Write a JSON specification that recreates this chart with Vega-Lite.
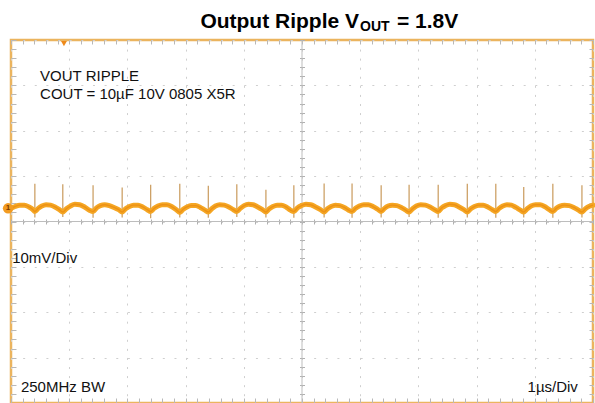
{
  "$schema": "https://vega.github.io/schema/vega-lite/v6.json",
  "width": 582,
  "height": 363,
  "autosize": {"type": "none"},
  "padding": {"left": 11, "top": 40, "right": 2, "bottom": 0},
  "background": "white",
  "config": {
    "view": {"stroke": "#EBB45E", "strokeWidth": 2.5},
    "text": {"font": "Liberation Sans"}
  },
  "datasets": {
    "wave": [
      {"t": 0, "v": 2.9}, {"t": 0.07, "v": 3.3}, {"t": 0.15, "v": 3.6}, {"t": 0.23, "v": 3.6}, {"t": 0.31, "v": 3.2}, {"t": 0.37, "v": 2.7},
      {"t": 0.41, "v": 2.2}, {"t": 0.468, "v": 2.9}, {"t": 0.53, "v": 3.4}, {"t": 0.602, "v": 3.7}, {"t": 0.679, "v": 3.6}, {"t": 0.756, "v": 3.2}, {"t": 0.832, "v": 2.6},
      {"t": 0.89, "v": 2.1}, {"t": 0.952, "v": 2.8}, {"t": 1.02, "v": 3.4}, {"t": 1.098, "v": 3.8}, {"t": 1.181, "v": 3.7}, {"t": 1.264, "v": 3.2}, {"t": 1.348, "v": 2.5},
      {"t": 1.41, "v": 2.2}, {"t": 1.47, "v": 3.0}, {"t": 1.535, "v": 3.5}, {"t": 1.61, "v": 3.7}, {"t": 1.69, "v": 3.5}, {"t": 1.77, "v": 3.1}, {"t": 1.85, "v": 2.6},
      {"t": 1.91, "v": 2.1}, {"t": 1.969, "v": 2.8}, {"t": 2.033, "v": 3.3}, {"t": 2.106, "v": 3.6}, {"t": 2.184, "v": 3.6}, {"t": 2.263, "v": 3.2}, {"t": 2.341, "v": 2.6},
      {"t": 2.4, "v": 2.2}, {"t": 2.46, "v": 2.9}, {"t": 2.525, "v": 3.4}, {"t": 2.6, "v": 3.7}, {"t": 2.68, "v": 3.7}, {"t": 2.76, "v": 3.3}, {"t": 2.84, "v": 2.6},
      {"t": 2.9, "v": 2.0}, {"t": 2.959, "v": 2.7}, {"t": 3.023, "v": 3.2}, {"t": 3.096, "v": 3.5}, {"t": 3.174, "v": 3.5}, {"t": 3.253, "v": 3.1}, {"t": 3.331, "v": 2.5},
      {"t": 3.39, "v": 2.1}, {"t": 3.449, "v": 2.8}, {"t": 3.513, "v": 3.4}, {"t": 3.586, "v": 3.7}, {"t": 3.664, "v": 3.6}, {"t": 3.743, "v": 3.2}, {"t": 3.821, "v": 2.6},
      {"t": 3.88, "v": 2.2}, {"t": 3.94, "v": 2.9}, {"t": 4.005, "v": 3.5}, {"t": 4.08, "v": 3.8}, {"t": 4.16, "v": 3.7}, {"t": 4.24, "v": 3.2}, {"t": 4.32, "v": 2.6},
      {"t": 4.38, "v": 2.1}, {"t": 4.438, "v": 2.8}, {"t": 4.5, "v": 3.3}, {"t": 4.572, "v": 3.6}, {"t": 4.649, "v": 3.6}, {"t": 4.726, "v": 3.2}, {"t": 4.802, "v": 2.5},
      {"t": 4.86, "v": 2.2}, {"t": 4.922, "v": 3.0}, {"t": 4.99, "v": 3.5}, {"t": 5.068, "v": 3.8}, {"t": 5.151, "v": 3.7}, {"t": 5.234, "v": 3.2}, {"t": 5.318, "v": 2.6},
      {"t": 5.38, "v": 2.1}, {"t": 5.438, "v": 2.8}, {"t": 5.5, "v": 3.3}, {"t": 5.572, "v": 3.6}, {"t": 5.649, "v": 3.5}, {"t": 5.726, "v": 3.1}, {"t": 5.802, "v": 2.5},
      {"t": 5.86, "v": 2.2}, {"t": 5.92, "v": 2.9}, {"t": 5.985, "v": 3.4}, {"t": 6.06, "v": 3.7}, {"t": 6.14, "v": 3.7}, {"t": 6.22, "v": 3.3}, {"t": 6.3, "v": 2.7},
      {"t": 6.36, "v": 2.2}, {"t": 6.418, "v": 2.9}, {"t": 6.48, "v": 3.4}, {"t": 6.552, "v": 3.6}, {"t": 6.629, "v": 3.5}, {"t": 6.706, "v": 3.1}, {"t": 6.782, "v": 2.5},
      {"t": 6.84, "v": 2.1}, {"t": 6.9, "v": 2.8}, {"t": 6.965, "v": 3.4}, {"t": 7.04, "v": 3.7}, {"t": 7.12, "v": 3.6}, {"t": 7.2, "v": 3.2}, {"t": 7.28, "v": 2.6},
      {"t": 7.34, "v": 2.2}, {"t": 7.4, "v": 3.0}, {"t": 7.465, "v": 3.5}, {"t": 7.54, "v": 3.8}, {"t": 7.62, "v": 3.7}, {"t": 7.7, "v": 3.2}, {"t": 7.78, "v": 2.6},
      {"t": 7.84, "v": 2.1}, {"t": 7.899, "v": 2.8}, {"t": 7.963, "v": 3.3}, {"t": 8.036, "v": 3.6}, {"t": 8.114, "v": 3.6}, {"t": 8.193, "v": 3.2}, {"t": 8.271, "v": 2.6},
      {"t": 8.33, "v": 2.2}, {"t": 8.388, "v": 2.9}, {"t": 8.45, "v": 3.4}, {"t": 8.522, "v": 3.7}, {"t": 8.599, "v": 3.6}, {"t": 8.676, "v": 3.1}, {"t": 8.752, "v": 2.5},
      {"t": 8.81, "v": 2.1}, {"t": 8.87, "v": 2.8}, {"t": 8.935, "v": 3.4}, {"t": 9.01, "v": 3.7}, {"t": 9.09, "v": 3.7}, {"t": 9.17, "v": 3.3}, {"t": 9.25, "v": 2.6},
      {"t": 9.31, "v": 2.2}, {"t": 9.37, "v": 2.9}, {"t": 9.435, "v": 3.4}, {"t": 9.51, "v": 3.6}, {"t": 9.59, "v": 3.5}, {"t": 9.67, "v": 3.1}, {"t": 9.75, "v": 2.5},
      {"t": 9.81, "v": 2.1}, {"t": 9.87, "v": 2.8}, {"t": 9.93, "v": 3.3}, {"t": 10.0, "v": 3.6}
    ],
    "spikes": [
      {"t": 0.41, "hi": 8.3, "lo": 0.9}, {"t": 0.89, "hi": 8.2, "lo": 1.0}, {"t": 1.41, "hi": 8.0, "lo": 0.8},
      {"t": 1.91, "hi": 7.5, "lo": 0.9}, {"t": 2.4, "hi": 8.1, "lo": 0.7}, {"t": 2.9, "hi": 8.3, "lo": 0.9},
      {"t": 3.39, "hi": 7.9, "lo": 0.8}, {"t": 3.88, "hi": 8.2, "lo": 1.0}, {"t": 4.38, "hi": 7.0, "lo": 0.9},
      {"t": 4.86, "hi": 8.0, "lo": 0.8}, {"t": 5.38, "hi": 8.4, "lo": 0.9}, {"t": 5.86, "hi": 8.4, "lo": 0.8},
      {"t": 6.36, "hi": 8.0, "lo": 0.9}, {"t": 6.84, "hi": 8.1, "lo": 1.0}, {"t": 7.34, "hi": 8.1, "lo": 0.8},
      {"t": 7.84, "hi": 8.3, "lo": 0.9}, {"t": 8.33, "hi": 8.3, "lo": 0.8}, {"t": 8.81, "hi": 7.6, "lo": 0.9},
      {"t": 9.31, "hi": 8.3, "lo": 0.8}, {"t": 9.81, "hi": 8.0, "lo": 0.9}
    ],
    "notes": [
      {"t": 0.5, "v": 30.9, "label": "VOUT RIPPLE"},
      {"t": 0.5, "v": 26.9, "label": "COUT = 10µF 10V 0805 X5R"},
      {"t": 0.02, "v": -9.25, "label": "10mV/Div"},
      {"t": 0.17, "v": -37.5, "label": "250MHz BW"}
    ]
  },
  "resolve": {"axis": {"x": "independent", "y": "independent"}},
  "layer": [
    {
      "data": {"values": [{}]},
      "mark": {"type": "rule", "color": "#bdbdbd", "strokeWidth": 1},
      "encoding": {
        "y": {"datum": 0, "type": "quantitative", "scale": {"domain": [-40, 40], "nice": false, "zero": false},
          "axis": {"orient": "left", "offset": -293.5, "values": [-40,-38,-36,-34,-32,-30,-28,-26,-24,-22,-20,-18,-16,-14,-12,-10,-8,-6,-4,-2,0,2,4,6,8,10,12,14,16,18,20,22,24,26,28,30,32,34,36,38,40],
            "tickSize": 5, "tickColor": "#b0b0b0", "labels": false, "domain": false, "grid": false, "title": null}}
      }
    },
    {
      "data": {"values": [{}]},
      "mark": {"type": "rule", "color": "#bdbdbd", "strokeWidth": 1},
      "encoding": {
        "x": {"datum": 5, "type": "quantitative", "scale": {"domain": [0, 10], "nice": false, "zero": false},
          "axis": {"orient": "bottom", "offset": -184, "values": [0,0.2,0.4,0.6,0.8,1,1.2,1.4,1.6,1.8,2,2.2,2.4,2.6,2.8,3,3.2,3.4,3.6,3.8,4,4.2,4.4,4.6,4.8,5,5.2,5.4,5.6,5.8,6,6.2,6.4,6.6,6.8,7,7.2,7.4,7.6,7.8,8,8.2,8.4,8.6,8.8,9,9.2,9.4,9.6,9.8,10],
            "tickSize": 5, "tickColor": "#b0b0b0", "labels": false, "domain": false, "grid": false, "title": null}}
      }
    },
    {
      "data": {"name": "spikes"},
      "mark": {"type": "rule", "color": "#C99A5B", "strokeWidth": 1.2},
      "encoding": {
        "x": {"field": "t", "type": "quantitative", "scale": {"domain": [0, 10], "nice": false, "zero": false},
          "axis": {"orient": "top", "values": [0,0.2,0.4,0.6,0.8,1,1.2,1.4,1.6,1.8,2,2.2,2.4,2.6,2.8,3,3.2,3.4,3.6,3.8,4,4.2,4.4,4.6,4.8,5,5.2,5.4,5.6,5.8,6,6.2,6.4,6.6,6.8,7,7.2,7.4,7.6,7.8,8,8.2,8.4,8.6,8.8,9,9.2,9.4,9.6,9.8,10],
            "tickSize": -4, "tickColor": "#b8b8b8", "labels": false, "domain": false, "grid": false, "title": null}},
        "y": {"field": "lo", "type": "quantitative", "scale": {"domain": [-40, 40], "nice": false, "zero": false},
          "axis": {"orient": "right", "values": [-40,-38,-36,-34,-32,-30,-28,-26,-24,-22,-20,-18,-16,-14,-12,-10,-8,-6,-4,-2,0,2,4,6,8,10,12,14,16,18,20,22,24,26,28,30,32,34,36,38,40],
            "tickSize": -4, "tickColor": "#b8b8b8", "labels": false, "domain": false, "grid": false, "title": null}},
        "y2": {"field": "hi"}
      }
    },
    {
      "data": {"name": "wave"},
      "mark": {"type": "line", "color": "#F5A623", "strokeWidth": 5, "interpolate": "monotone", "strokeJoin": "round", "strokeCap": "round"},
      "encoding": {
        "x": {"field": "t", "type": "quantitative", "scale": {"domain": [0, 10], "nice": false, "zero": false},
          "axis": {"orient": "bottom", "values": [0,0.2,0.4,0.6,0.8,1,1.2,1.4,1.6,1.8,2,2.2,2.4,2.6,2.8,3,3.2,3.4,3.6,3.8,4,4.2,4.4,4.6,4.8,5,5.2,5.4,5.6,5.8,6,6.2,6.4,6.6,6.8,7,7.2,7.4,7.6,7.8,8,8.2,8.4,8.6,8.8,9,9.2,9.4,9.6,9.8,10],
            "grid": true, "gridColor": "#cfcfcf", "gridDash": [2, 7.07],
            "gridOpacity": {"condition": {"test": "datum.value % 1 === 0", "value": 1}, "value": 0},
            "tickSize": -5, "tickColor": "#b8b8b8", "labels": false, "domain": false, "title": null}},
        "y": {"field": "v", "type": "quantitative", "scale": {"domain": [-40, 40], "nice": false, "zero": false},
          "axis": {"orient": "left", "values": [-40,-38,-36,-34,-32,-30,-28,-26,-24,-22,-20,-18,-16,-14,-12,-10,-8,-6,-4,-2,0,2,4,6,8,10,12,14,16,18,20,22,24,26,28,30,32,34,36,38,40],
            "grid": true, "gridColor": "#cfcfcf", "gridDash": [2, 9.64],
            "gridOpacity": {"condition": {"test": "datum.value % 10 === 0", "value": 1}, "value": 0},
            "tickSize": -5, "tickColor": "#b8b8b8", "labels": false, "domain": false, "title": null}}
      }
    },
    {
      "data": {"name": "wave"},
      "mark": {"type": "line", "color": "#EA8C12", "strokeWidth": 1.4, "opacity": 0.8, "interpolate": "monotone"},
      "encoding": {
        "x": {"field": "t", "type": "quantitative", "scale": {"domain": [0, 10], "nice": false, "zero": false}, "axis": null},
        "y": {"field": "v", "type": "quantitative", "scale": {"domain": [-40, 40], "nice": false, "zero": false}, "axis": null}
      }
    },
    {
      "data": {"name": "notes"},
      "mark": {"type": "text", "align": "left", "baseline": "alphabetic", "fontSize": 15, "color": "#111111"},
      "encoding": {
        "x": {"field": "t", "type": "quantitative", "scale": {"domain": [0, 10], "nice": false, "zero": false}, "axis": null},
        "y": {"field": "v", "type": "quantitative", "scale": {"domain": [-40, 40], "nice": false, "zero": false}, "axis": null},
        "text": {"field": "label"}
      }
    },
    {
      "data": {"values": [{}]},
      "mark": {"type": "text", "align": "right", "baseline": "alphabetic", "fontSize": 15, "color": "#111111"},
      "encoding": {
        "x": {"datum": 9.74, "type": "quantitative", "scale": {"domain": [0, 10], "nice": false, "zero": false}, "axis": null},
        "y": {"datum": -37.5, "type": "quantitative", "scale": {"domain": [-40, 40], "nice": false, "zero": false}, "axis": null},
        "text": {"value": "1µs/Div"}
      }
    },
    {
      "data": {"values": [{}]},
      "mark": {"type": "text", "align": "right", "baseline": "alphabetic", "fontSize": 21, "fontWeight": "bold", "color": "#000000", "clip": false},
      "encoding": {
        "x": {"datum": 5.98, "type": "quantitative", "scale": {"domain": [0, 10], "nice": false, "zero": false}, "axis": null},
        "y": {"datum": 42.64, "type": "quantitative", "scale": {"domain": [-40, 40], "nice": false, "zero": false}, "axis": null},
        "text": {"value": "Output Ripple V"}
      }
    },
    {
      "data": {"values": [{}]},
      "mark": {"type": "text", "align": "left", "baseline": "alphabetic", "fontSize": 14, "fontWeight": "bold", "color": "#000000", "clip": false},
      "encoding": {
        "x": {"datum": 5.997, "type": "quantitative", "scale": {"domain": [0, 10], "nice": false, "zero": false}, "axis": null},
        "y": {"datum": 41.98, "type": "quantitative", "scale": {"domain": [-40, 40], "nice": false, "zero": false}, "axis": null},
        "text": {"value": "OUT"}
      }
    },
    {
      "data": {"values": [{}]},
      "mark": {"type": "text", "align": "left", "baseline": "alphabetic", "fontSize": 21, "fontWeight": "bold", "color": "#000000", "clip": false},
      "encoding": {
        "x": {"datum": 6.632, "type": "quantitative", "scale": {"domain": [0, 10], "nice": false, "zero": false}, "axis": null},
        "y": {"datum": 42.64, "type": "quantitative", "scale": {"domain": [-40, 40], "nice": false, "zero": false}, "axis": null},
        "text": {"value": "= 1.8V"}
      }
    },
    {
      "data": {"values": [{}]},
      "mark": {"type": "point", "shape": "triangle-down", "size": 35, "filled": true, "color": "#EE8A1A", "opacity": 1},
      "encoding": {
        "x": {"datum": 0.91, "type": "quantitative", "scale": {"domain": [0, 10], "nice": false, "zero": false}, "axis": null},
        "y": {"datum": 39.2, "type": "quantitative", "scale": {"domain": [-40, 40], "nice": false, "zero": false}, "axis": null}
      }
    },
    {
      "data": {"values": [{}]},
      "mark": {"type": "point", "shape": "circle", "size": 110, "filled": true, "color": "#F29B21", "opacity": 1},
      "encoding": {
        "x": {"datum": -0.05, "type": "quantitative", "scale": {"domain": [0, 10], "nice": false, "zero": false}, "axis": null},
        "y": {"datum": 2.9, "type": "quantitative", "scale": {"domain": [-40, 40], "nice": false, "zero": false}, "axis": null}
      }
    },
    {
      "data": {"values": [{}]},
      "mark": {"type": "text", "align": "center", "baseline": "middle", "fontSize": 8, "fontWeight": "bold", "color": "#7a3a00"},
      "encoding": {
        "x": {"datum": -0.05, "type": "quantitative", "scale": {"domain": [0, 10], "nice": false, "zero": false}, "axis": null},
        "y": {"datum": 2.9, "type": "quantitative", "scale": {"domain": [-40, 40], "nice": false, "zero": false}, "axis": null},
        "text": {"value": "1"}
      }
    }
  ]
}
